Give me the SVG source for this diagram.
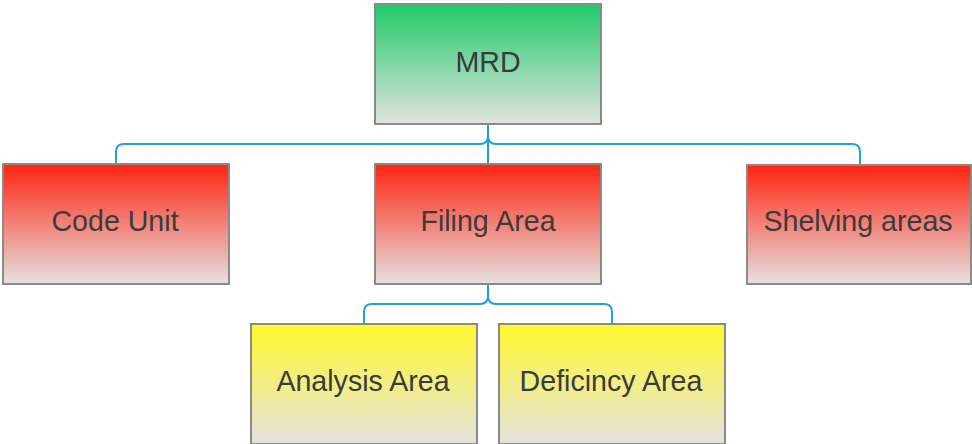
<svg xmlns="http://www.w3.org/2000/svg" width="972" height="444" viewBox="0 0 972 444">
  <defs>
    <linearGradient id="gGreen" x1="0" y1="0" x2="0" y2="1">
      <stop offset="0" stop-color="#1ECB68"/>
      <stop offset="1" stop-color="#E3E3E1"/>
    </linearGradient>
    <linearGradient id="gRed" x1="0" y1="0" x2="0" y2="1">
      <stop offset="0" stop-color="#FF2410"/>
      <stop offset="1" stop-color="#E5E1E1"/>
    </linearGradient>
    <linearGradient id="gYellow" x1="0" y1="0" x2="0" y2="1">
      <stop offset="0" stop-color="#FFF92C"/>
      <stop offset="1" stop-color="#E5E3E0"/>
    </linearGradient>
  </defs>
  <style>
    .box { stroke: #8A8A8A; stroke-width: 2; }
    .lbl { font-family: "Liberation Sans", Arial, sans-serif; font-size: 28.6px; fill: #3B3B3B; text-anchor: middle; }
    .conn { fill: none; stroke: #1FA3D6; stroke-width: 2; }
  </style>
  <rect width="972" height="444" fill="#FFFFFF"/>

  <g id="connectors">
    <!-- MRD to second row -->
    <path class="conn" d="M488 124 V136 Q488 144 480 144 H124 Q116 144 116 152 V164"/>
    <path class="conn" d="M488 124 V164"/>
    <path class="conn" d="M488 136 Q488 144 496 144 H852 Q860 144 860 152 V165"/>
    <!-- Filing Area to third row -->
    <path class="conn" d="M488 284 V296 Q488 304 480 304 H372 Q364 304 364 312 V324"/>
    <path class="conn" d="M488 296 Q488 304 496 304 H604 Q612 304 612 312 V324"/>
  </g>

  <g id="mrd">
    <rect class="box" x="375" y="4" width="226" height="120" fill="url(#gGreen)"/>
    <text class="lbl" x="488" y="72">MRD</text>
  </g>
  <g id="code-unit">
    <rect class="box" x="3" y="164" width="226" height="120" fill="url(#gRed)"/>
    <text class="lbl" x="115" y="231">Code Unit</text>
  </g>
  <g id="filing-area">
    <rect class="box" x="375" y="164" width="226" height="120" fill="url(#gRed)"/>
    <text class="lbl" x="488" y="231">Filing Area</text>
  </g>
  <g id="shelving-areas">
    <rect class="box" x="747" y="165" width="224" height="119" fill="url(#gRed)"/>
    <text class="lbl" x="858" y="231">Shelving areas</text>
  </g>
  <g id="analysis-area">
    <rect class="box" x="251" y="324" width="226" height="120" fill="url(#gYellow)"/>
    <text class="lbl" x="363" y="391">Analysis Area</text>
  </g>
  <g id="deficiency-area">
    <rect class="box" x="499" y="324" width="226" height="120" fill="url(#gYellow)"/>
    <text class="lbl" x="611" y="391">Deficincy Area</text>
  </g>
</svg>
